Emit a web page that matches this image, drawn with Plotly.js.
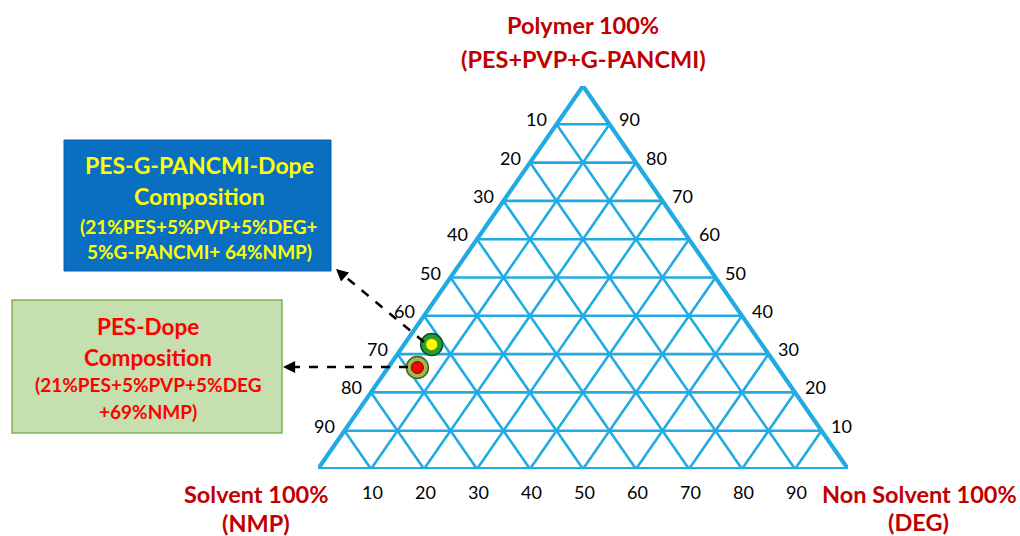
<!DOCTYPE html>
<html>
<head>
<meta charset="utf-8">
<script src="https://cdn.plot.ly/plotly-3.0.1.min.js"></script>
<style>html,body{margin:0;padding:0;background:#fff;}#chart{width:1020px;height:536px;}</style>
</head>
<body>
<div id="chart"></div>
<script>
// ---- data ----
const gridTicks = [10, 20, 30, 40, 50, 60, 70, 80, 90];
const solventTickLabels = ["10","20","30","40","50","60","70","80","90"];   // left edge (NMP)
const polymerTickLabels = ["10","20","30","40","50","60","70","80","90"];   // right edge (polymer)
const nonSolventTickLabels = ["10","20","30","40","50","60","70","80","90"];// bottom edge (DEG)
const pointNames = ["PES-G-PANCMI-Dope", "PES-Dope"];
const polymerPct = [32.5, 26.5];
const nonSolventPct = [5.2, 5.5];
const solventPct = [62.3, 68.0];

// ternary -> cartesian (x: 0..100 bottom, y: 0..100 height)
const tx = (a, c) => c + a / 2;
const ty = (a) => a;

const LINE = '#22ABE3';
const FONT = 'Lato, "Open Sans", sans-serif';

// plot area: x 318..848 px, y 86..469 px
const L = 318, R = 848, T = 86, B = 469;
const PX = p => (p - L) / (R - L);
const PY = p => (B - p) / (B - T);

// grid lines
const gx = [], gy = [];
gridTicks.forEach(v => {
  gx.push(tx(v, 0), tx(v, 100 - v), null); gy.push(ty(v), ty(v), null);
  gx.push(tx(0, v), tx(100 - v, v), null); gy.push(ty(0), ty(100 - v), null);
  gx.push(tx(0, 100 - v), tx(100 - v, 0), null); gy.push(ty(0), ty(100 - v), null);
});

const traces = [
  {x: gx, y: gy, mode: 'lines', line: {color: LINE, width: 2.6}, hoverinfo: 'skip', showlegend: false},
  {x: [tx(0,0), tx(100,0), tx(0,100), tx(0,0)], y: [ty(0), ty(100), ty(0), ty(0)],
   mode: 'lines', line: {color: LINE, width: 4.2}, hoverinfo: 'skip', showlegend: false},
  {x: polymerPct.map((a,i)=>tx(a, nonSolventPct[i])), y: polymerPct.map(ty), mode: 'markers',
   marker: {size: 22, color: ['#1E9F3C', '#9CBA4E'], line: {color: ['#0E4F1C', '#4E5E20'], width: 1.5}},
   text: pointNames, hoverinfo: 'text', showlegend: false},
  {x: polymerPct.map((a,i)=>tx(a, nonSolventPct[i])), y: polymerPct.map(ty), mode: 'markers',
   marker: {size: 12, color: ['#FFFF00', '#FF0000'], line: {color: ['#8A8A00', '#7A0000'], width: 1}},
   hoverinfo: 'skip', showlegend: false}
];

const ann = [];
const tickFont = {family: FONT, size: 18, color: '#000'};
gridTicks.forEach((v, i) => {
  ann.push({x: tx(100 - v, 0), y: ty(100 - v), xref: 'x', yref: 'y', text: solventTickLabels[i],
    showarrow: false, xshift: -20, yshift: 5, font: tickFont});
  ann.push({x: tx(v, 100 - v), y: ty(v), xref: 'x', yref: 'y', text: polymerTickLabels[i],
    showarrow: false, xshift: 20, yshift: 5, font: tickFont});
  ann.push({x: tx(0, v), y: ty(0), xref: 'x', yref: 'y', text: nonSolventTickLabels[i],
    showarrow: false, xshift: 1, yshift: -23, font: tickFont});
});

const red = '#C00000';
const titleFont = {family: FONT, size: 23.5, color: red};
function label(text, x, y, font) {
  ann.push({x: PX(x), y: PY(y), xref: 'paper', yref: 'paper', text: text, showarrow: false,
    xanchor: 'center', yanchor: 'middle', font: font});
}
label('<b>Polymer 100%</b>', 583, 25, titleFont);
label('<b>(PES+PVP+G-PANCMI)</b>', 583, 59, titleFont);
label('<b>Solvent 100%</b>', 256, 494, titleFont);
label('<b>(NMP)</b>', 256, 523, titleFont);
label('<b>Non Solvent 100%</b>', 919, 494, titleFont);
label('<b>(DEG)</b>', 918, 522, titleFont);

const yel = '#FFFF00';
label('<b>PES-G-PANCMI-Dope</b>', 199, 165, {family: FONT, size: 23, color: yel});
label('<b>Composition</b>', 199, 196, {family: FONT, size: 23, color: yel});
label('<b>(21%PES+5%PVP+5%DEG+</b>', 199, 227, {family: FONT, size: 19, color: yel});
label('<b>5%G-PANCMI+ 64%NMP)</b>', 199, 251, {family: FONT, size: 19, color: yel});

const rd = '#FF0000';
label('<b>PES-Dope</b>', 148, 326, {family: FONT, size: 22.5, color: rd});
label('<b>Composition</b>', 148, 357, {family: FONT, size: 22.5, color: rd});
label('<b>(21%PES+5%PVP+5%DEG</b>', 148, 384, {family: FONT, size: 19, color: rd});
label('<b>+69%NMP)</b>', 148, 411, {family: FONT, size: 19, color: rd});

// arrowheads
ann.push({x: PX(336), y: PY(269), xref: 'paper', yref: 'paper', ax: 9, ay: 8, showarrow: true,
  arrowhead: 2, arrowsize: 1.1, arrowwidth: 2.2, arrowcolor: '#000', text: ''});
ann.push({x: PX(283), y: PY(367), xref: 'paper', yref: 'paper', ax: 12, ay: 0, showarrow: true,
  arrowhead: 2, arrowsize: 1.1, arrowwidth: 2.2, arrowcolor: '#000', text: ''});

const shapes = [
  {type: 'rect', xref: 'paper', yref: 'paper', x0: PX(64), x1: PX(331), y0: PY(140), y1: PY(271),
   fillcolor: '#0A6FC0', line: {color: '#0A5FA8', width: 1}, layer: 'below'},
  {type: 'rect', xref: 'paper', yref: 'paper', x0: PX(12), x1: PX(282), y0: PY(300), y1: PY(433),
   fillcolor: '#C6DFAE', line: {color: '#7DB356', width: 1.5}, layer: 'below'},
  {type: 'line', xref: 'paper', yref: 'paper', x0: PX(424), y0: PY(342), x1: PX(342), y1: PY(274),
   line: {color: '#000', width: 2.5, dash: 'dash'}},
  {type: 'line', xref: 'paper', yref: 'paper', x0: PX(408), y0: PY(367), x1: PX(290), y1: PY(367),
   line: {color: '#000', width: 2.5, dash: 'dash'}}
];

const layout = {
  width: 1020, height: 536,
  margin: {l: L, r: 1020 - R, t: T, b: 536 - B, pad: 0},
  paper_bgcolor: '#fff', plot_bgcolor: 'rgba(0,0,0,0)',
  xaxis: {range: [0, 100], visible: false, fixedrange: true},
  yaxis: {range: [0, 100], visible: false, fixedrange: true},
  showlegend: false,
  annotations: ann,
  shapes: shapes
};

Plotly.newPlot('chart', traces, layout, {displayModeBar: false, staticPlot: true});
</script>
</body>
</html>
